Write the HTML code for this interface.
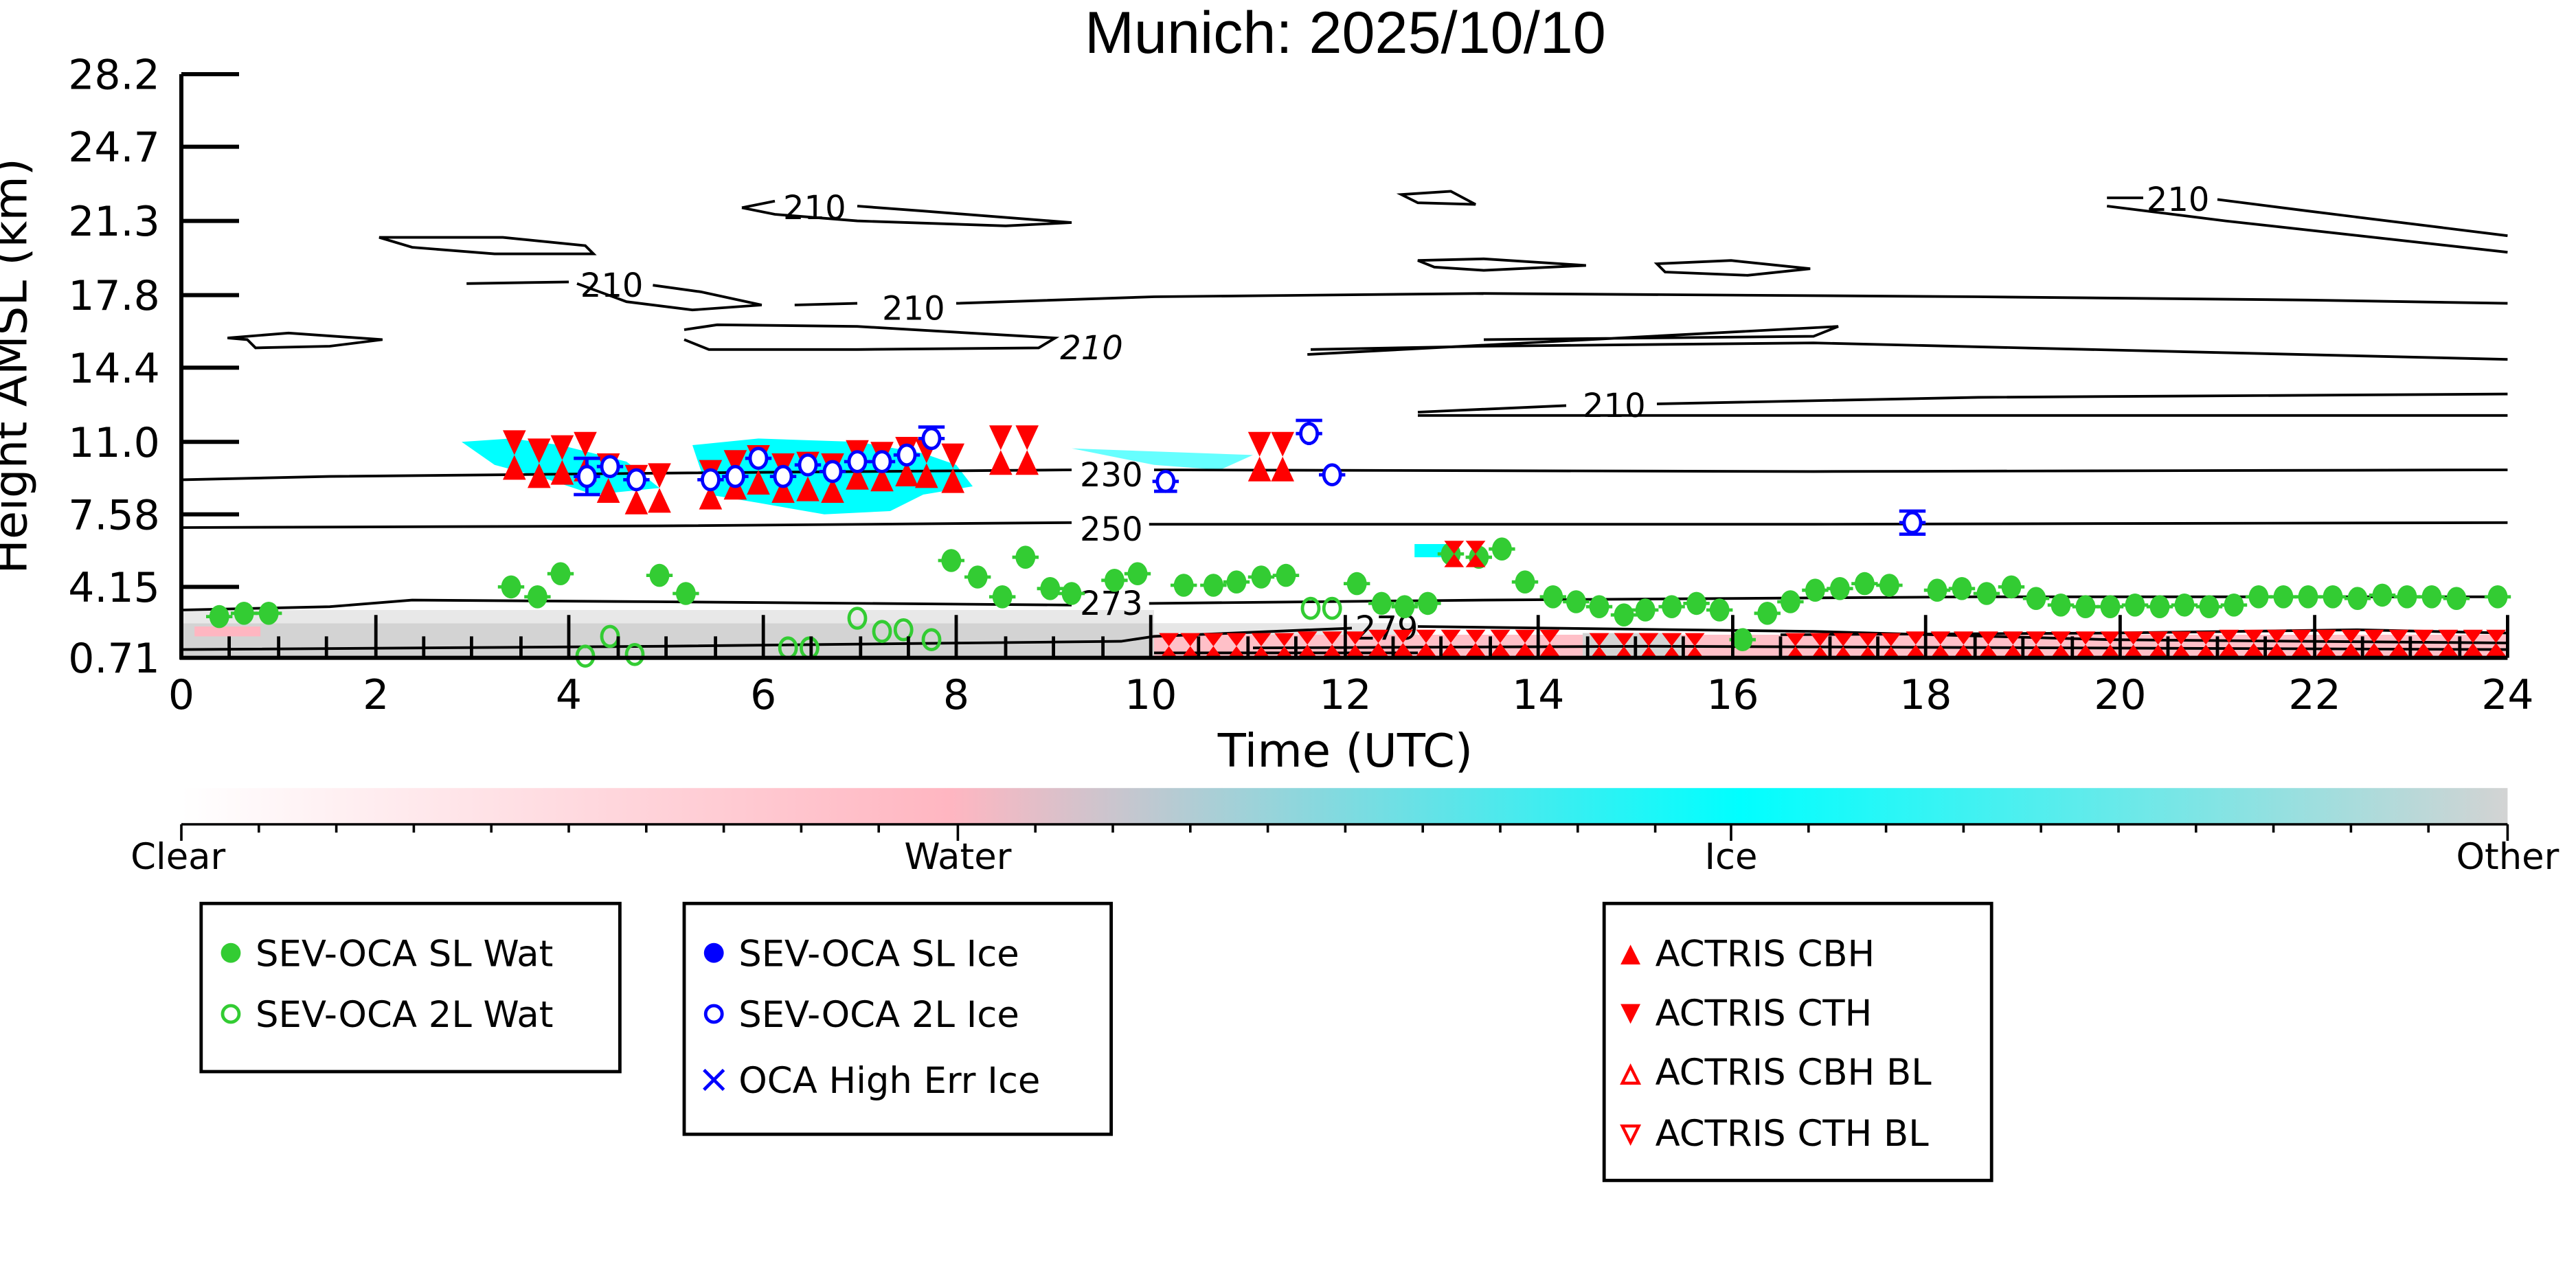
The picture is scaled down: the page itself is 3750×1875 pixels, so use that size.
<!DOCTYPE html>
<html><head><meta charset="utf-8"><style>html,body{margin:0;padding:0;background:#fff}svg{display:block}</style></head>
<body>
<svg xmlns="http://www.w3.org/2000/svg" xmlns:xlink="http://www.w3.org/1999/xlink" width="3750" height="1875" viewBox="0 0 1562.5 781.25" font-family="'DejaVu Sans','Liberation Sans',sans-serif">
<defs>
<linearGradient id="cb" x1="0" x2="1" y1="0" y2="0">
<stop offset="0" stop-color="#ffffff"/><stop offset="0.33" stop-color="#ffb6c1"/><stop offset="0.67" stop-color="#00ffff"/><stop offset="1" stop-color="#d3d3d3"/>
</linearGradient>
<g id="gw"><line x1="-8" x2="8" y1="0" y2="0" stroke="#33cc33" stroke-width="2"/><ellipse rx="6" ry="7" fill="#33cc33"/></g>
<g id="go"><ellipse rx="5" ry="6" fill="none" stroke="#33cc33" stroke-width="2"/></g>
<g id="bo"><line x1="-8" x2="8" y1="0" y2="0" stroke="#0000ff" stroke-width="2"/><ellipse rx="5" ry="6" fill="#fff" stroke="#0000ff" stroke-width="2"/></g>
<g id="bt"><path d="M-7,-15 L7,-15 L0,0 Z M-7,15 L7,15 L0,0 Z" fill="#ff0000"/></g>
<g id="bl"><path d="M-6,-8 L6,-8 L0,0 Z M-6,8 L6,8 L0,0 Z" fill="#ff0000"/></g>
</defs>
<text x="816" y="32" font-size="36" text-anchor="middle" font-family="'Liberation Sans',sans-serif">Munich: 2025/10/10</text>

<rect x="110" y="378" width="590" height="21" fill="#d3d3d3"/>
<rect x="110" y="370" width="590" height="8" fill="#e8e8e8"/>
<rect x="118" y="380" width="40" height="6" fill="#ffb6c1"/>
<rect x="700" y="378" width="160" height="21" fill="#e6e6e6"/>
<rect x="700" y="385" width="821" height="14" fill="#ffc0c8"/>
<rect x="960" y="384" width="60" height="15" fill="#d3d3d3"/>
<path d="M280,268 L310,266 L340,270 L380,280 L400,296 L360,300 L330,290 L300,282 Z" fill="#00ffff"/>
<path d="M420,270 L460,266 L520,268 L560,275 L580,282 L590,295 L560,300 L540,310 L500,312 L460,305 L430,300 Z" fill="#00ffff"/>
<path d="M650,272 L760,276 L740,285 L700,282 Z" fill="#00ffff" opacity="0.6"/>
<rect x="858" y="330" width="20" height="8" fill="#00ffff"/>

<g fill="none" stroke="#000" stroke-width="1.6">
<path d="M110,291 L200,289 L400,287 L650,285"/>
<path d="M700,285 L1100,286 L1521,285"/>
<path d="M110,320 L400,319 L650,317"/>
<path d="M697,318 L1100,318 L1521,317"/>
<path d="M110,370 L200,368 L250,364 L400,365 L650,367"/>
<path d="M697,366 L900,364 L1200,362 L1521,362"/>
<path d="M110,394 L400,392 L680,389 L700,386 L820,381"/>
<path d="M860,380 L1100,383 L1280,388 L1521,390"/>
<path d="M760,393 L1000,392 L1521,394"/>
<path d="M700,396 L860,396"/>
<path d="M1080,385 L1280,384 L1430,382 L1521,384"/>
<path d="M138,205 L175,202 L232,206 L200,210 L155,211 L150,206 Z"/>
<path d="M230,144 L305,144 L355,149 L360,154 L300,154 L250,150 Z"/>
<path d="M283,172 L345,171"/>
<path d="M396,173 L425,177 L462,185 L420,188 L380,183 L350,172"/>
<path d="M450,126 L470,122"/>
<path d="M520,125 L560,128 L650,135 L610,137 L520,134 L470,130 L450,126"/>
<path d="M415,200 L435,197 L520,198 L640,205 L630,211 L520,212 L430,212 L415,206"/>
<path d="M482,185 L520,184"/>
<path d="M580,184 L700,180 L900,178 L1200,180 L1400,182 L1521,184"/>
<path d="M795,212 L900,210 L1100,208 L1521,218"/>
<path d="M793,215 L1115,198 L1100,204 L900,206"/>
<path d="M860,250 L950,246"/>
<path d="M1005,245 L1200,241 L1521,239"/>
<path d="M860,252 L1200,252 L1521,252"/>
<path d="M1278,120 L1300,120"/>
<path d="M1345,121 L1400,128 L1521,143"/>
<path d="M1278,125 L1350,134 L1521,153"/>
<path d="M850,118 L880,116 L895,124 L860,123 Z"/>
<path d="M860,158 L900,157 L962,161 L900,164 L870,162 Z"/>
<path d="M1005,160 L1050,158 L1098,163 L1060,167 L1010,165 Z"/>
</g>
<g font-size="20" font-family="'DejaVu Sans',sans-serif">
<text x="655" y="295">230</text>
<text x="655" y="328">250</text>
<text x="655" y="373">273</text>
<text x="822" y="388">279</text>
<text x="352" y="180">210</text>
<text x="475" y="133">210</text>
<text x="535" y="194">210</text>
<text x="643" y="218" font-style="italic">210</text>
<text x="960" y="253">210</text>
<text x="1302" y="128">210</text>
</g>

<g>
<use xlink:href="#gw" x="133" y="374"/><use xlink:href="#gw" x="148" y="372"/><use xlink:href="#gw" x="163" y="372"/>
<use xlink:href="#gw" x="310" y="356"/><use xlink:href="#gw" x="326" y="362"/><use xlink:href="#gw" x="340" y="348"/>
<use xlink:href="#gw" x="400" y="349"/><use xlink:href="#gw" x="416" y="360"/>
<use xlink:href="#gw" x="577" y="340"/><use xlink:href="#gw" x="593" y="350"/><use xlink:href="#gw" x="608" y="362"/><use xlink:href="#gw" x="622" y="338"/><use xlink:href="#gw" x="637" y="357"/><use xlink:href="#gw" x="650" y="360"/>
<use xlink:href="#gw" x="676" y="352"/><use xlink:href="#gw" x="690" y="348"/><use xlink:href="#gw" x="718" y="355"/><use xlink:href="#gw" x="736" y="355"/><use xlink:href="#gw" x="750" y="353"/><use xlink:href="#gw" x="765" y="350"/><use xlink:href="#gw" x="780" y="349"/>
<use xlink:href="#gw" x="823" y="354"/><use xlink:href="#gw" x="838" y="366"/><use xlink:href="#gw" x="852" y="368"/><use xlink:href="#gw" x="866" y="366"/>
<use xlink:href="#gw" x="880" y="336"/><use xlink:href="#gw" x="897" y="338"/><use xlink:href="#gw" x="911" y="333"/>
<use xlink:href="#gw" x="925" y="353"/><use xlink:href="#gw" x="942" y="362"/><use xlink:href="#gw" x="956" y="365"/><use xlink:href="#gw" x="970" y="368"/><use xlink:href="#gw" x="985" y="373"/><use xlink:href="#gw" x="998" y="370"/><use xlink:href="#gw" x="1014" y="368"/><use xlink:href="#gw" x="1029" y="366"/><use xlink:href="#gw" x="1043" y="370"/><use xlink:href="#gw" x="1057" y="388"/>
<use xlink:href="#gw" x="1072" y="372"/><use xlink:href="#gw" x="1086" y="365"/><use xlink:href="#gw" x="1101" y="358"/><use xlink:href="#gw" x="1116" y="357"/><use xlink:href="#gw" x="1131" y="354"/><use xlink:href="#gw" x="1146" y="355"/>
<use xlink:href="#gw" x="1175" y="358"/><use xlink:href="#gw" x="1190" y="357"/><use xlink:href="#gw" x="1205" y="360"/><use xlink:href="#gw" x="1220" y="356"/><use xlink:href="#gw" x="1235" y="363"/><use xlink:href="#gw" x="1250" y="367"/><use xlink:href="#gw" x="1265" y="368"/><use xlink:href="#gw" x="1280" y="368"/><use xlink:href="#gw" x="1295" y="367"/><use xlink:href="#gw" x="1310" y="368"/><use xlink:href="#gw" x="1325" y="367"/><use xlink:href="#gw" x="1340" y="368"/><use xlink:href="#gw" x="1355" y="367"/><use xlink:href="#gw" x="1370" y="362"/><use xlink:href="#gw" x="1385" y="362"/><use xlink:href="#gw" x="1400" y="362"/><use xlink:href="#gw" x="1415" y="362"/><use xlink:href="#gw" x="1430" y="363"/><use xlink:href="#gw" x="1445" y="361"/><use xlink:href="#gw" x="1460" y="362"/><use xlink:href="#gw" x="1475" y="362"/><use xlink:href="#gw" x="1490" y="363"/><use xlink:href="#gw" x="1515" y="362"/>
</g>
<g>
<use xlink:href="#go" x="370" y="386"/><use xlink:href="#go" x="385" y="397"/><use xlink:href="#go" x="355" y="398"/>
<use xlink:href="#go" x="478" y="393"/><use xlink:href="#go" x="491" y="393"/><use xlink:href="#go" x="520" y="375"/><use xlink:href="#go" x="535" y="383"/><use xlink:href="#go" x="548" y="382"/><use xlink:href="#go" x="565" y="388"/>
<use xlink:href="#go" x="795" y="369"/><use xlink:href="#go" x="808" y="369"/>
</g>
<g>
<use xlink:href="#bt" x="312" y="276"/><use xlink:href="#bt" x="327" y="281"/><use xlink:href="#bt" x="341" y="279"/><use xlink:href="#bt" x="355" y="277"/><use xlink:href="#bt" x="369" y="290"/><use xlink:href="#bt" x="386" y="297"/><use xlink:href="#bt" x="400" y="296"/>
<use xlink:href="#bt" x="431" y="294"/><use xlink:href="#bt" x="446" y="288"/><use xlink:href="#bt" x="460" y="285"/><use xlink:href="#bt" x="475" y="290"/><use xlink:href="#bt" x="490" y="289"/><use xlink:href="#bt" x="505" y="290"/><use xlink:href="#bt" x="520" y="282"/><use xlink:href="#bt" x="535" y="283"/><use xlink:href="#bt" x="550" y="280"/><use xlink:href="#bt" x="562" y="281"/><use xlink:href="#bt" x="578" y="284"/>
<use xlink:href="#bt" x="607" y="273"/><use xlink:href="#bt" x="623" y="273"/>
<use xlink:href="#bt" x="764" y="277"/><use xlink:href="#bt" x="778" y="277"/>
<use xlink:href="#bl" x="882" y="336"/><use xlink:href="#bl" x="895" y="336"/>
</g>
<g>
<use xlink:href="#bl" x="709" y="392"/><use xlink:href="#bl" x="722" y="392"/><use xlink:href="#bl" x="736" y="392"/><use xlink:href="#bl" x="750" y="392"/><use xlink:href="#bl" x="765" y="392"/><use xlink:href="#bl" x="779" y="392"/><use xlink:href="#bl" x="793" y="391"/><use xlink:href="#bl" x="808" y="391"/><use xlink:href="#bl" x="822" y="391"/><use xlink:href="#bl" x="836" y="390"/><use xlink:href="#bl" x="851" y="390"/><use xlink:href="#bl" x="865" y="390"/><use xlink:href="#bl" x="880" y="390"/><use xlink:href="#bl" x="895" y="390"/><use xlink:href="#bl" x="910" y="390"/><use xlink:href="#bl" x="925" y="390"/><use xlink:href="#bl" x="940" y="390"/>
<use xlink:href="#bl" x="970" y="392"/><use xlink:href="#bl" x="985" y="392"/><use xlink:href="#bl" x="1000" y="392"/><use xlink:href="#bl" x="1014" y="392"/><use xlink:href="#bl" x="1028" y="392"/>
<use xlink:href="#bl" x="1089" y="392"/><use xlink:href="#bl" x="1104" y="392"/><use xlink:href="#bl" x="1118" y="392"/><use xlink:href="#bl" x="1133" y="392"/><use xlink:href="#bl" x="1147" y="392"/><use xlink:href="#bl" x="1162" y="391"/><use xlink:href="#bl" x="1177" y="391"/><use xlink:href="#bl" x="1191" y="391"/><use xlink:href="#bl" x="1206" y="391"/><use xlink:href="#bl" x="1221" y="391"/><use xlink:href="#bl" x="1235" y="391"/><use xlink:href="#bl" x="1250" y="391"/><use xlink:href="#bl" x="1265" y="391"/><use xlink:href="#bl" x="1280" y="391"/><use xlink:href="#bl" x="1294" y="391"/><use xlink:href="#bl" x="1309" y="391"/><use xlink:href="#bl" x="1323" y="391"/><use xlink:href="#bl" x="1338" y="391"/><use xlink:href="#bl" x="1352" y="390"/><use xlink:href="#bl" x="1367" y="390"/><use xlink:href="#bl" x="1381" y="390"/><use xlink:href="#bl" x="1396" y="390"/><use xlink:href="#bl" x="1411" y="390"/><use xlink:href="#bl" x="1426" y="390"/><use xlink:href="#bl" x="1440" y="390"/><use xlink:href="#bl" x="1455" y="390"/><use xlink:href="#bl" x="1470" y="390"/><use xlink:href="#bl" x="1485" y="390"/><use xlink:href="#bl" x="1500" y="390"/><use xlink:href="#bl" x="1514" y="390"/>
</g>
<g stroke="#0000ff" stroke-width="2">
<path d="M356,278 V300 M348,278 H364 M348,300 H364 M565,260 V272 M557,259 H573 M794,256 V270 M786,255 H802 M1160,311 V323 M1152,310 H1168 M1152,324 H1168 M707,287 V298 M700,298 H714"/>
</g>
<g>
<use xlink:href="#bo" x="356" y="289"/><use xlink:href="#bo" x="370" y="283"/><use xlink:href="#bo" x="386" y="291"/>
<use xlink:href="#bo" x="431" y="291"/><use xlink:href="#bo" x="446" y="289"/><use xlink:href="#bo" x="460" y="278"/><use xlink:href="#bo" x="475" y="289"/><use xlink:href="#bo" x="490" y="282"/><use xlink:href="#bo" x="505" y="286"/><use xlink:href="#bo" x="520" y="280"/><use xlink:href="#bo" x="535" y="280"/><use xlink:href="#bo" x="550" y="276"/><use xlink:href="#bo" x="565" y="266"/>
<use xlink:href="#bo" x="707" y="292"/><use xlink:href="#bo" x="794" y="263"/><use xlink:href="#bo" x="808" y="288"/><use xlink:href="#bo" x="1160" y="317"/>
</g>

<g stroke="#000" stroke-width="2.5">
<line x1="110" y1="45" x2="110" y2="400"/>
<line x1="109" y1="399" x2="1521" y2="399"/>
<path d="M110,45 H145 M110,89 H145 M110,134 H145 M110,179 H145 M110,223 H145 M110,268 H145 M110,312 H145 M110,356 H145"/>
</g>
<g stroke="#000" stroke-width="2">
<path d="M228,373 V399 M345,373 V399 M463,373 V399 M580,373 V399 M698,373 V399 M816,373 V399 M933,373 V399 M1051,373 V399 M1168,373 V399 M1286,373 V399 M1404,373 V399 M1521,373 V399"/>
<path d="M139,386 V399 M169,386 V399 M198,386 V399 M257,386 V399 M286,386 V399 M316,386 V399 M375,386 V399 M404,386 V399 M434,386 V399 M492,386 V399 M522,386 V399 M551,386 V399 M610,386 V399 M639,386 V399 M669,386 V399 M727,386 V399 M757,386 V399 M786,386 V399 M845,386 V399 M874,386 V399 M904,386 V399 M963,386 V399 M992,386 V399 M1021,386 V399 M1080,386 V399 M1110,386 V399 M1139,386 V399 M1198,386 V399 M1227,386 V399 M1257,386 V399 M1315,386 V399 M1345,386 V399 M1374,386 V399 M1433,386 V399 M1462,386 V399 M1492,386 V399"/>
</g>
<g font-size="25" text-anchor="end">
<text x="97" y="54">28.2</text><text x="97" y="98">24.7</text><text x="97" y="143">21.3</text><text x="97" y="188">17.8</text><text x="97" y="232">14.4</text><text x="97" y="277">11.0</text><text x="97" y="321">7.58</text><text x="97" y="365">4.15</text><text x="97" y="408">0.71</text>
</g>
<g font-size="25" text-anchor="middle">
<text x="110" y="430">0</text><text x="228" y="430">2</text><text x="345" y="430">4</text><text x="463" y="430">6</text><text x="580" y="430">8</text><text x="698" y="430">10</text><text x="816" y="430">12</text><text x="933" y="430">14</text><text x="1051" y="430">16</text><text x="1168" y="430">18</text><text x="1286" y="430">20</text><text x="1404" y="430">22</text><text x="1521" y="430">24</text>
</g>
<text x="816" y="465" font-size="28" text-anchor="middle">Time (UTC)</text>
<text transform="translate(16,222) rotate(-90)" font-size="28" text-anchor="middle">Height AMSL (km)</text>

<rect x="110" y="478" width="1411" height="22" fill="url(#cb)"/>
<g stroke="#000" stroke-width="1.5">
<line x1="110" y1="500" x2="1521" y2="500"/>
<path d="M110,500 V510 M581,500 V510 M1050,500 V510 M1521,500 V510"/>
<path d="M157,500 V505 M204,500 V505 M251,500 V505 M298,500 V505 M345,500 V505 M392,500 V505 M439,500 V505 M486,500 V505 M533,500 V505 M628,500 V505 M675,500 V505 M722,500 V505 M769,500 V505 M816,500 V505 M863,500 V505 M910,500 V505 M957,500 V505 M1004,500 V505 M1097,500 V505 M1144,500 V505 M1191,500 V505 M1238,500 V505 M1285,500 V505 M1332,500 V505 M1379,500 V505 M1426,500 V505 M1473,500 V505"/>
</g>
<g font-size="22" text-anchor="middle">
<text x="108" y="527">Clear</text><text x="581" y="527">Water</text><text x="1050" y="527">Ice</text><text x="1521" y="527">Other</text>
</g>

<g fill="none" stroke="#000" stroke-width="2">
<rect x="122" y="548" width="254" height="102"/>
<rect x="415" y="548" width="259" height="140"/>
<rect x="973" y="548" width="235" height="168"/>
</g>
<g font-size="22">
<circle cx="140" cy="578" r="6" fill="#33cc33"/><text x="155" y="586">SEV-OCA SL Wat</text>
<circle cx="140" cy="615" r="5" fill="none" stroke="#33cc33" stroke-width="2"/><text x="155" y="623">SEV-OCA 2L Wat</text>
<circle cx="433" cy="578" r="6" fill="#0000ff"/><text x="448" y="586">SEV-OCA SL Ice</text>
<circle cx="433" cy="615" r="5" fill="none" stroke="#0000ff" stroke-width="2"/><text x="448" y="623">SEV-OCA 2L Ice</text>
<path d="M427,649 L439,661 M439,649 L427,661" stroke="#0000ff" stroke-width="2"/><text x="448" y="663">OCA High Err Ice</text>
<path d="M983,585 L995,585 L989,573 Z" fill="#ff0000"/><text x="1004" y="586">ACTRIS CBH</text>
<path d="M983,609 L995,609 L989,621 Z" fill="#ff0000"/><text x="1004" y="622">ACTRIS CTH</text>
<path d="M984,657 L994,657 L989,647 Z" fill="none" stroke="#ff0000" stroke-width="1.8"/><text x="1004" y="658">ACTRIS CBH BL</text>
<path d="M984,683 L994,683 L989,693 Z" fill="none" stroke="#ff0000" stroke-width="1.8"/><text x="1004" y="695">ACTRIS CTH BL</text>
</g>
</svg>
</body></html>
